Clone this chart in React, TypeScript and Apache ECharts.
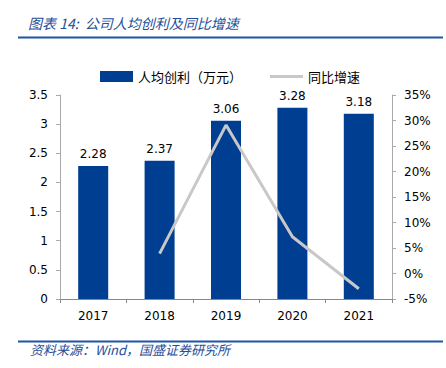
import React, { useEffect, useRef } from "react";
import * as echarts from "echarts";

const years = ["2017", "2018", "2019", "2020", "2021"];
const profitPerCapita = [2.28, 2.37, 3.06, 3.28, 3.18];
const growthRate: (number | null)[] = [null, 3.9, 29.1, 7.2, -3.0];
const barName = "人均创利（万元）";
const lineName = "同比增速";
const titleText = "图表 14:  公司人均创利及同比增速";
const sourceText = "资料来源：Wind，国盛证券研究所";

const BLUE = "#003E92";
const TEXT_BLUE = "#1F4E9A";
const FONT = "'DejaVu Sans', 'Noto Sans CJK SC', sans-serif";

export default function App() {
  const ref = useRef<HTMLDivElement>(null);
  useEffect(() => {
    const chart = echarts.init(ref.current!, undefined, { renderer: "svg" });
    chart.setOption({
      animation: false,
      backgroundColor: "#fff",
      textStyle: { fontFamily: FONT },
      graphic: [
        {
          type: "text",
          left: 28,
          top: 16,
          style: {
            text: titleText,
            fill: TEXT_BLUE,
            font: `italic 14px 'Noto Sans CJK SC', sans-serif`,
          },
        },
        {
          type: "line",
          shape: { x1: 18, y1: 37.5, x2: 443, y2: 37.5 },
          style: { stroke: "#1F54A6", lineWidth: 2 },
        },
        {
          type: "line",
          shape: { x1: 18, y1: 341.5, x2: 443, y2: 341.5 },
          style: { stroke: "#1F54A6", lineWidth: 2 },
        },
        {
          type: "text",
          left: 30,
          top: 343,
          style: {
            text: sourceText,
            fill: TEXT_BLUE,
            font: `italic 13px 'Noto Sans CJK SC', sans-serif`,
          },
        },
      ],
      legend: {
        left: 95,
        top: 65,
        itemWidth: 33,
        itemHeight: 11,
        itemGap: 28,
        textStyle: { fontSize: 13, color: "#000", fontFamily: "'Noto Sans CJK SC', sans-serif" },
        data: [
          { name: barName, icon: "rect" },
          {
            name: lineName,
            icon: "path://M0,0H32V3H0Z",
            itemStyle: { color: "#C8C8C8" },
          },
        ],
      },
      grid: { left: 60, right: 54, top: 95, bottom: 69 },
      xAxis: {
        type: "category",
        data: years,
        axisLine: { lineStyle: { color: "#888" } },
        axisTick: { show: true, alignWithLabel: false, lineStyle: { color: "#888" }, length: 4 },
        axisLabel: { color: "#000", fontSize: 12, margin: 11 },
      },
      yAxis: [
        {
          type: "value",
          min: 0,
          max: 3.5,
          interval: 0.5,
          splitLine: { show: false },
          axisLine: { show: true, lineStyle: { color: "#aaa" } },
          axisTick: { show: true, lineStyle: { color: "#aaa" }, length: 4 },
          axisLabel: { color: "#000", fontSize: 12, margin: 12 },
        },
        {
          type: "value",
          min: -5,
          max: 35,
          interval: 5,
          splitLine: { show: false },
          axisLine: { show: true, lineStyle: { color: "#aaa" } },
          axisTick: { show: true, lineStyle: { color: "#aaa" }, length: 4 },
          axisLabel: { color: "#000", fontSize: 12, margin: 12, formatter: "{value}%" },
        },
      ],
      series: [
        {
          name: barName,
          type: "bar",
          data: profitPerCapita,
          barWidth: 30,
          itemStyle: { color: BLUE },
          label: {
            show: true,
            position: "top",
            distance: 6,
            color: "#000",
            fontSize: 12,
            formatter: (p: any) => p.value.toFixed(2),
          },
        },
        {
          name: lineName,
          type: "line",
          yAxisIndex: 1,
          data: growthRate,
          symbol: "none",
          lineStyle: { color: "#C8C8C8", width: 3 },
          itemStyle: { color: "#C8C8C8" },
        },
      ],
    });
    return () => chart.dispose();
  }, []);
  return (
    <div
      ref={ref}
      style={{ position: "fixed", left: 0, top: 0, width: 446, height: 368 }}
    />
  );
}
